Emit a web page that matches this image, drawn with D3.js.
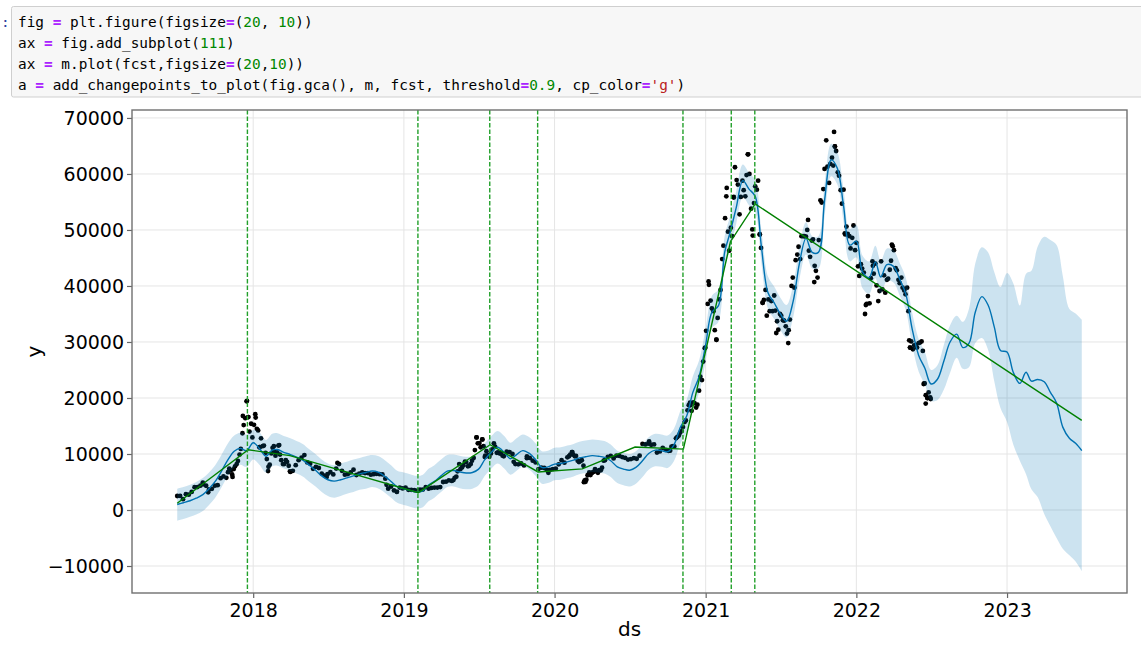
<!DOCTYPE html>
<html>
<head>
<meta charset="utf-8">
<script src="https://d3js.org/d3.v7.min.js"></script>
<style>
    body { margin: 0; background: #fff; }
    .code text { font-family: 'DejaVu Sans Mono', monospace; font-size: 14.4px; white-space: pre; }
    .axis text { font-family: 'DejaVu Sans', sans-serif; font-size: 19px; fill: #000; }
    .axis line { stroke: #666; stroke-width: 1.2; }
    .label { font-family: 'DejaVu Sans', sans-serif; font-size: 20px; fill: #000; }
</style>
</head>
<body>
<svg width="1141" height="650"></svg>
<script>
// notebook cell source
const codeLines = [
    "fig = plt.figure(figsize=(20, 10))",
    "ax = fig.add_subplot(111)",
    "ax = m.plot(fcst,figsize=(20,10))",
    "a = add_changepoints_to_plot(fig.gca(), m, fcst, threshold=0.9, cp_color='g')"
];

// observed points: weekly (Saturday) closes starting 2017-07-01
const obsStart = "2017-07-01";
const obs2017 = [2500, 2510, 1930, 2830, 2730, 3230, 4070, 4100, 4350, 4580, 4330, 3680, 3780, 4340, 4440, 5680, 5990, 5750, 7380, 6360, 7790, 8760, 10900, 15170, 19400, 14000, 12950];
const obs2018 = [17100, 14200, 12800, 11500, 9100, 8100, 11100, 9700, 11500, 8900, 8200, 8600, 6900, 7000, 8000, 8900, 9350, 9800, 8500, 8250,
    7350, 7700, 7500, 6500, 6150, 6400, 6750, 6350, 7400, 8200, 7000, 6300, 6400, 6700, 7200, 6250, 6500, 6700, 6600, 6600,
    6300, 6400, 6450, 6400, 6350, 5600, 3800, 4200, 3500, 3250, 4000, 3850];
const obs2019 = [4000, 3600, 3600, 3550, 3450, 3650, 3650, 4100, 3800, 3950, 4000, 4000, 4100, 5000, 5050, 5300, 5200, 5750, 6900, 7300,
    8000, 8550, 7900, 8800, 10700, 11900, 11200, 11400, 10500, 9500, 10800, 11300, 10300, 10100, 9600, 10400, 10350, 10000, 8200, 8150,
    8300, 7950, 9250, 9300, 8800, 8500, 7300, 7550, 7500, 7100, 7150, 7300];
const obs2020 = [7400, 8150, 8900, 8450, 9400, 9900, 9900, 9650, 8550, 8900, 5300, 6200, 6250, 6800, 6900, 7100, 7550, 8900, 9500, 9650,
    9200, 9700, 9650, 9450, 9300, 9000, 9100, 9250, 9150, 9700, 11800, 11700, 11850, 11650, 11700, 10250, 10450, 11100, 10750, 10550,
    11300, 11350, 13000, 13800, 14800, 16000, 18700, 17700, 19100, 18800, 23800, 26500];
const obs2021 = [32000, 40200, 36000, 32100, 34300, 39300, 47200, 56000, 46300, 48900, 61200, 58100, 55900, 57100, 59800, 60000, 50100, 57800, 58800, 46800,
    37500, 34700, 35500, 35500, 35600, 32200, 34700, 33800, 31500, 34000, 41500, 44600, 47000, 48900, 48900, 50000, 45200, 48300, 42700, 48200,
    54900, 60900, 61300, 61800, 61500, 64100, 59700, 54700, 49400, 49300, 46700, 50800];
const obs2022 = [47700, 41800, 43100, 35000, 38200, 41400, 42200, 40100, 39100, 39400, 38800, 41300, 44500, 46400, 42800, 40500, 39700, 38500, 35500, 30100,
    29400, 29000, 29900, 28400, 20500, 21000];

// midweek (Wednesday) closes in the busier stretches
const midStarts = ["2017-11-01", "2019-05-01", "2020-02-05", "2020-10-07"];
const midA = [6750, 7100, 7300, 8200, 9900, 13700, 16400, 16600, 15400, 15200, 14500, 11200, 11400, 10200, 7700, 10100, 10500, 10300, 9900, 8200,
    8900, 7900];
const midB = [5350, 5950, 8200, 7600, 8650, 7800, 8200, 9300, 12950, 11950, 12600, 9700, 9800, 10100, 11900, 10200, 10100, 9700];
const midC = [9600, 10350, 9600, 8800, 8750, 7900, 5400, 6700, 6650, 7300, 6650, 7100, 8800];
const midD = [10600, 11400, 12800, 13300, 14100, 15700, 17800, 18700, 19200, 18300, 21300, 23200, 28900,
    36800, 37400, 35500, 30400, 37600, 44800, 52100, 49700, 50400, 55900, 58900, 52800, 58800, 56000, 63500, 53800, 54800, 57200,
    49200, 37000, 39300, 37600, 37300, 38300, 33700, 35000, 33900, 32800, 32100, 40000, 39700, 45600, 44800, 48900, 48800, 46300,
    48100, 43600, 41500, 55300, 57300, 66000, 58400, 62900, 64900, 60300, 57100, 57200, 50600, 48900, 48600, 46400,
    43500, 43900, 42400, 36800, 36900, 44400, 44000, 37300, 44400, 41900, 41100, 42900, 47100, 43200, 41100, 41500, 39200, 39700,
    29000, 28700, 29500, 29800, 30100, 22600, 20000, 20100];

// extra observed points (spikes and dips)
const extraDates = ["2017-09-01", "2017-09-14", "2017-11-12", "2017-12-07", "2017-12-17", "2017-12-20", "2018-01-07", "2018-01-16", "2018-02-06", "2018-02-20",
    "2018-03-05", "2018-04-01", "2018-06-28", "2018-07-24", "2018-11-20", "2018-12-15", "2019-06-26", "2019-07-10", "2019-07-16", "2019-09-24",
    "2019-10-26", "2019-12-17", "2020-02-13", "2020-03-12", "2020-03-16", "2020-08-17", "2020-11-24", "2020-12-31", "2021-01-08", "2021-01-27",
    "2021-02-21", "2021-03-10", "2021-04-13", "2021-04-25", "2021-05-12", "2021-05-19", "2021-06-21", "2021-07-20", "2021-09-06", "2021-09-21",
    "2021-11-08", "2021-11-10", "2021-12-05", "2022-01-24", "2022-02-10", "2022-03-28", "2022-05-09", "2022-05-11", "2022-06-13", "2022-06-15",
    "2022-06-18", "2022-06-22", "2022-06-30"];
const extraValues = [4900, 3150, 5900, 16800, 19500, 16600, 16500, 11200, 6950, 11400,
    11600, 6800, 5900, 8400, 4500, 3240, 12950, 12600, 9450, 8600,
    9550, 6650, 10350, 4970, 5030, 12250, 19150, 29000, 40800, 30400,
    57500, 55800, 63500, 49000, 49200, 37000, 31600, 29800, 51800, 40700,
    67500, 64900, 49200, 36600, 43600, 47400, 30300, 29000, 22500, 22600,
    19000, 20000, 19800];

// forecast, on the 1st and 16th of each month, 2017-07-01 .. 2023-07-01
const yhat = [980, 1300, 1650, 2100, 2750, 3800, 5100, 6900, 9000, 10500,
    11000, 10600, 12000, 11000, 9600, 10700, 10800, 10300, 9900, 9450,
    8900, 8050, 7100, 6100, 5400, 5150, 5400, 5750, 6100, 6450,
    6700, 6950, 6700, 6000, 5100, 4150, 3800, 3500, 3200, 3400,
    4400, 5100, 6100, 6950, 7050, 6800, 6600, 6700, 7300, 9000,
    10300, 11200, 10300, 9150, 9900, 10600, 10100, 9000, 7600, 7700,
    8200, 8300, 8600, 8900, 9300, 9500, 9700, 9600, 9400, 8800,
    7700, 7300, 7100, 7600, 8800, 10100, 10700, 10600, 10400, 11600,
    14800, 16800, 21000, 23800, 29500, 35300, 36500, 46000, 49500, 54000,
    58800, 57300, 56000, 47000, 38800, 37000, 35000, 33700, 37300, 44000,
    48500, 46000, 46000, 55300, 62500, 61000, 54300, 47300, 48000, 42500,
    41500, 44300, 41600, 43800, 43500, 41200, 38500, 32400, 27600, 25300,
    22500, 23300, 26600, 30000, 31400, 29000, 29800, 35300, 38100, 36600,
    32700, 28500, 28200, 24600, 22600, 24600, 23000, 23300, 22900, 21000,
    19100, 14800, 12800, 11900, 10600];
const yhatUpper = [3800, 4100, 4500, 5000, 5700, 6700, 8000, 9800, 11900, 13300,
    13800, 13500, 14300, 13900, 12500, 13600, 13700, 13200, 12800, 12300,
    11800, 10900, 10000, 9000, 8300, 8000, 8300, 8600, 9000, 9300,
    9600, 9800, 9600, 8900, 8000, 7000, 6700, 6400, 6100, 6300,
    7300, 8000, 9000, 9800, 9900, 9700, 9500, 9600, 10200, 11900,
    13200, 14100, 13200, 12000, 12800, 13500, 13000, 11900, 10500, 10600,
    11100, 11200, 11500, 11800, 12200, 12400, 12600, 12500, 12300, 11700,
    10600, 10200, 10000, 10500, 11700, 13000, 13600, 13500, 13300, 14500,
    17700, 19700, 23900, 26700, 32400, 38200, 39400, 48900, 52400, 56900,
    61700, 60200, 58900, 49900, 41700, 39900, 37900, 36600, 40200, 46900,
    51400, 48900, 48900, 58200, 65400, 63900, 57200, 50200, 50900, 45400,
    44400, 47200, 44500, 46700, 46400, 44100, 41400, 35300, 30500, 28200,
    25000, 25800, 29500, 33000, 34700, 33600, 36000, 44000, 46900, 46000,
    42500, 39800, 42300, 40500, 36500, 42200, 42700, 47000, 48800, 48200,
    47300, 41800, 35900, 35100, 34000];
const yhatLower = [-1900, -1600, -1200, -800, -200, 900, 2200, 4000, 6100, 7600,
    8100, 7700, 9000, 8100, 6700, 7800, 7900, 7400, 7000, 6500,
    6000, 5100, 4200, 3200, 2500, 2200, 2500, 2900, 3200, 3600,
    3800, 4100, 3800, 3100, 2200, 1300, 900, 600, 300, 500,
    1500, 2200, 3200, 4100, 4200, 3900, 3700, 3800, 4400, 6100,
    7400, 8300, 7400, 6300, 7000, 7700, 7200, 6100, 4700, 4800,
    5300, 5400, 5700, 6000, 6400, 6600, 6800, 6700, 6500, 5900,
    4800, 4400, 4200, 4700, 5900, 7200, 7800, 7700, 7500, 8700,
    11900, 13900, 18100, 20900, 26600, 32400, 33600, 43100, 46600, 51100,
    55900, 54400, 53100, 44100, 35900, 34100, 32100, 30800, 34400, 41100,
    45600, 43100, 43100, 52400, 59600, 58100, 51400, 44400, 45100, 39600,
    38600, 41400, 38700, 40900, 40600, 38300, 35600, 29500, 24700, 22400,
    19500, 19600, 21500, 24500, 27200, 25200, 25500, 29800, 30700, 28600,
    23000, 18200, 15700, 11700, 8800, 6400, 3700, 2300, -700, -2900,
    -5000, -6900, -8100, -9200, -10900];

// piecewise trend and the changepoints above threshold
const trendDates = ["2017-07-01", "2017-12-20", "2018-03-31", "2019-02-05", "2019-07-29", "2019-11-22", "2020-03-08", "2020-07-14", "2020-11-08", "2021-03-02", "2021-05-01", "2023-07-01"];
const trendValues = [1200, 10750, 9700, 3100, 11650, 6800, 7350, 11250, 10870, 47900, 54650, 16000];
const cpDates = ["2017-12-18", "2019-02-04", "2019-07-28", "2019-11-21", "2020-11-07", "2021-03-04", "2021-04-30"];

const yTicks = [-10000, 0, 10000, 20000, 30000, 40000, 50000, 60000, 70000];
const xTickYears = [2018, 2019, 2020, 2021, 2022, 2023];

const parse = d3.timeParse("%Y-%m-%d");
const svg = d3.select("svg");

// ---- code cell
const cell = svg.append("g").attr("class", "code");
cell.append("rect")
    .attr("x", 11.5).attr("y", 6.5).attr("width", 1140).attr("height", 90.5)
    .attr("rx", 2).attr("fill", "#f7f7f7").attr("stroke", "#cfcfcf");
cell.append("text").attr("x", 1).attr("y", 27).attr("fill", "#303F9F").text(":");

const tokenColor = { op: "#AA22FF", num: "#008800", str: "#BA2121", txt: "#000" };
codeLines.forEach((line, i) => {
    const t = cell.append("text").attr("x", 18).attr("y", 26.5 + i * 21.3);
    const re = /('[^']*')|(\d+(?:\.\d+)?)|(=)|([^'\d=]+)/g;
    let mt;
    while ((mt = re.exec(line)) !== null) {
        const kind = mt[1] ? "str" : mt[2] ? "num" : mt[3] ? "op" : "txt";
        t.append("tspan")
            .attr("fill", tokenColor[kind])
            .attr("font-weight", kind === "op" ? "bold" : null)
            .text(mt[0]);
    }
});

// ---- chart
const pLeft = 132, pTop = 110, pRight = 1127, pBottom = 593;

const fcDates = d3.timeMonth.range(new Date(2017, 6, 1), new Date(2023, 6, 1))
    .flatMap(d => [d, d3.timeDay.offset(d, 15)])
    .concat([new Date(2023, 6, 1)]);
const fc = fcDates.map((d, i) => ({ ds: d, yhat: yhat[i], lo: yhatLower[i], hi: yhatUpper[i] }));

const weekly = [].concat(obs2017, obs2018, obs2019, obs2020, obs2021, obs2022);
let obs = weekly.map((v, i) => ({ ds: d3.timeDay.offset(parse(obsStart), 7 * i), y: v }));
[midA, midB, midC, midD].forEach((arr, k) => {
    arr.forEach((v, i) => obs.push({ ds: d3.timeDay.offset(parse(midStarts[k]), 7 * i), y: v }));
});
extraDates.forEach((d, i) => obs.push({ ds: parse(d), y: extraValues[i] }));

const trend = trendDates.map((d, i) => ({ ds: parse(d), y: trendValues[i] }));

// matplotlib style 5% margins
const t0 = fcDates[0], t1 = fcDates[fcDates.length - 1];
const tPad = (t1 - t0) * 0.05;
const x = d3.scaleTime()
    .domain([new Date(+t0 - tPad), new Date(+t1 + tPad)])
    .range([pLeft, pRight]);
const yMin = Math.min(d3.min(yhatLower), d3.min(obs, d => d.y));
const yMax = Math.max(d3.max(yhatUpper), d3.max(obs, d => d.y));
const yPad = (yMax - yMin) * 0.05;
const y = d3.scaleLinear().domain([yMin - yPad, yMax + yPad]).range([pBottom, pTop]);

const xTicks = xTickYears.map(yr => new Date(yr, 0, 1));

svg.append("clipPath").attr("id", "plot")
    .append("rect").attr("x", pLeft).attr("y", pTop).attr("width", pRight - pLeft).attr("height", pBottom - pTop);

// grid
const grid = svg.append("g").attr("stroke", "#e5e5e5").attr("stroke-width", 1);
grid.selectAll(".gx").data(xTicks).join("line")
    .attr("x1", d => x(d)).attr("x2", d => x(d)).attr("y1", pTop).attr("y2", pBottom);
grid.selectAll(".gy").data(yTicks).join("line")
    .attr("x1", pLeft).attr("x2", pRight).attr("y1", d => y(d)).attr("y2", d => y(d));

const plot = svg.append("g").attr("clip-path", "url(#plot)");

// observed points
plot.append("g").selectAll("circle").data(obs).join("circle")
    .attr("cx", d => x(d.ds)).attr("cy", d => y(d.y)).attr("r", 2.4).attr("fill", "#000");

// forecast line
plot.append("path").datum(fc)
    .attr("fill", "none").attr("stroke", "#0072B2").attr("stroke-width", 1.4)
    .attr("d", d3.line().x(d => x(d.ds)).y(d => y(d.yhat)).curve(d3.curveCatmullRom.alpha(0.5)));

// uncertainty interval
plot.append("path").datum(fc)
    .attr("fill", "#0072B2").attr("fill-opacity", 0.2)
    .attr("d", d3.area().x(d => x(d.ds)).y0(d => y(d.lo)).y1(d => y(d.hi)).curve(d3.curveCatmullRom.alpha(0.5)));

// trend
plot.append("path").datum(trend)
    .attr("fill", "none").attr("stroke", "#008000").attr("stroke-width", 1.4)
    .attr("d", d3.line().x(d => x(d.ds)).y(d => y(d.y)));

// changepoints
plot.append("g").selectAll("line").data(cpDates).join("line")
    .attr("x1", d => x(parse(d))).attr("x2", d => x(parse(d)))
    .attr("y1", pTop).attr("y2", pBottom)
    .attr("stroke", "#22a02a").attr("stroke-width", 1.4).attr("stroke-dasharray", "4.5,2");

// axes
const xAxis = d3.axisBottom(x).tickValues(xTicks).tickFormat(d3.timeFormat("%Y")).tickSize(5).tickPadding(6);
const yAxis = d3.axisLeft(y).tickValues(yTicks).tickFormat(d3.format("d")).tickSize(5).tickPadding(3);
svg.append("g").attr("class", "axis").attr("transform", `translate(0,${pBottom})`).call(xAxis)
    .call(g => g.select(".domain").remove());
svg.append("g").attr("class", "axis").attr("transform", `translate(${pLeft},0)`).call(yAxis)
    .call(g => g.select(".domain").remove());

svg.append("rect")
    .attr("x", pLeft).attr("y", pTop).attr("width", pRight - pLeft).attr("height", pBottom - pTop)
    .attr("fill", "none").attr("stroke", "#707070").attr("stroke-width", 1.4);

svg.append("text").attr("class", "label")
    .attr("x", (pLeft + pRight) / 2).attr("y", 636).attr("text-anchor", "middle").text("ds");
svg.append("text").attr("class", "label")
    .attr("transform", `translate(41,${(pTop + pBottom) / 2}) rotate(-90)`)
    .attr("text-anchor", "middle").text("y");
</script>
</body>
</html>
